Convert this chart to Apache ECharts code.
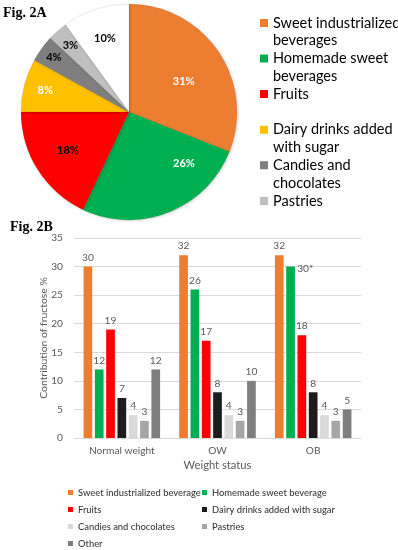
<!DOCTYPE html>
<html><head><meta charset="utf-8">
<script src="https://cdn.jsdelivr.net/npm/echarts@6/dist/echarts.min.js"></script>
<style>html,body{margin:0;padding:0;background:#fff}#c{width:398px;height:550px}</style>
</head><body><div id="c"></div>
<script>
// ---- Fig. 2A data ----
const pieNames = ['Sweet industrialized beverages','Homemade sweet beverages','Fruits','Dairy drinks added with sugar','Candies and chocolates','Pastries','Other'];
const pieValues = [31, 26, 18, 8, 4, 3, 10];
const pieLegendNames = ['Sweet industrialized beverages','Homemade sweet beverages','Fruits','Dairy drinks added with sugar','Candies and chocolates','Pastries'];
const pieLegendText = {
  'Sweet industrialized beverages':'Sweet industrialized\nbeverages',
  'Homemade sweet beverages':'Homemade sweet\nbeverages',
  'Fruits':'Fruits\n ',
  'Dairy drinks added with sugar':'Dairy drinks added\nwith sugar',
  'Candies and chocolates':'Candies and\nchocolates',
  'Pastries':'Pastries\n '
};
// ---- Fig. 2B data ----
const categories = ['Normal weight','OW','OB'];
const barSeriesNames = ['Sweet industrialized beverage','Homemade sweet beverage','Fruits','Dairy drinks added with sugar','Candies and chocolates','Pastries','Other'];
const sweetIndustrialized = [30, 32, 32];
const homemadeSweet = [12, 26, 30];
const fruits = [19, 17, 18];
const dairySugar = [7, 8, 8];
const candies = [4, 4, 4];
const pastries = [3, 3, 3];
const other = [12, 10, 5];
const barValues = [sweetIndustrialized, homemadeSweet, fruits, dairySugar, candies, pastries, other];
const starredLabel = {series: 1, index: 2, text: '30*'};
const yMin = 0, yMax = 35, yStep = 5;
// bottom legend laid out in two columns (reading order left->right, top->bottom)
const legendColLeft = barSeriesNames.filter((_, i) => i % 2 === 0);
const legendColRight = barSeriesNames.filter((_, i) => i % 2 === 1);

// ---- styles ----
const FONT = 'Lato';
const pieColors = ['#ED7D31','#00B050','#FF0000','#FFC000','#7F7F7F','#BFBFBF','#FFFFFF'];
const pieLabelColors = ['#fff','#fff','#000','#fff','#000','#000','#000'];
const pieLabelPlace = [[0.58,5],[0.70,-25],[0.67,0],[0.80,0],[0.86,0],[0.82,0],[0.72,0]];
const barColors = ['#ED7D31','#00B050','#FF0000','#1C1C1C','#D9D9D9','#A6A6A6','#7F7F7F'];
const PCX = 129, PCY = 112, PR = 108;
const iconH = 35.6;
const pieIcon = 'path://M0,4.9h8v8h-8z M0,0h0.01v' + iconH + 'h-0.01z';

const total = pieValues.reduce((a,b)=>a+b,0);
const cum = []; pieValues.reduce((a,v,i)=>{cum[i]=a; return a+v;},0);

const bottomLegend = (names, left) => ({
  orient:'vertical', left:left, top:486, padding:0, itemGap:4,
  itemWidth:5, itemHeight:5, selectedMode:false, icon:'rect',
  data: names,
  textStyle:{fontFamily:FONT, fontSize:9.4, fontWeight:500, lineHeight:13, color:'#3A3A3A'}
});

const chart = echarts.init(document.getElementById('c'), null, {renderer:'canvas'});
const option = {
  animation: false,
  title: [
    {text:'Fig. 2A', left:3, top:6, padding:0, textStyle:{fontFamily:'Liberation Serif', fontWeight:'bold', fontSize:14, color:'#000'}},
    {text:'Fig. 2B', left:10, top:220, padding:0, textStyle:{fontFamily:'Liberation Serif', fontWeight:'bold', fontSize:14, color:'#000'}}
  ],
  legend: [
    {
      orient:'vertical', left:260, top:14, padding:0, itemGap:0,
      itemWidth:8, itemHeight:iconH, selectedMode:false,
      itemStyle:{borderWidth:0},
      data: pieLegendNames.map(n => ({name:n, icon:pieIcon, itemStyle:{color:pieColors[pieNames.indexOf(n)], borderWidth:0}})),
      formatter: n => pieLegendText[n],
      textStyle:{fontFamily:FONT, fontSize:14.5, lineHeight:17.8, color:'#000'}
    },
    bottomLegend(legendColLeft, 68),
    bottomLegend(legendColRight, 202)
  ],
  grid: {left:74, right:37, top:238, bottom:112},
  xAxis: {
    type:'category', data:categories,
    axisLine:{lineStyle:{color:'#D9D9D9'}}, axisTick:{show:false},
    axisLabel:{color:'#595959', fontFamily:FONT, fontSize:10.2, margin:8},
    name:'Weight status', nameLocation:'middle', nameGap:22, nameMoveOverlap:false,
    nameTextStyle:{color:'#595959', fontFamily:FONT, fontSize:11.2}
  },
  yAxis: {
    type:'value', min:yMin, max:yMax, interval:yStep,
    axisLine:{show:false}, axisTick:{show:false},
    splitLine:{lineStyle:{color:'#D9D9D9'}},
    axisLabel:{color:'#595959', fontFamily:FONT, fontSize:10.2, margin:11},
    name:'Contribution of fructose %', nameLocation:'middle', nameGap:25, nameMoveOverlap:false,
    nameTextStyle:{color:'#595959', fontFamily:FONT, fontSize:10.4}
  },
  series: [
    {
      type:'pie', center:[PCX, PCY], radius:PR, startAngle:90, clockwise:true,
      legendHoverLink:false, emphasis:{disabled:true}, silent:true,
      itemStyle:{borderColor:'rgba(0,0,0,0.12)', borderWidth:0.6, shadowColor:'rgba(0,0,0,0.18)', shadowBlur:3, shadowOffsetX:1, shadowOffsetY:1},
      label:{show:true, position:'inside', formatter:'{c}%', fontFamily:FONT, fontSize:11, fontWeight:'bold'},
      labelLine:{show:false},
      labelLayout: function (p) {
        const i = p.dataIndex;
        const ang = ((cum[i] + pieValues[i]/2) / total * 360 + pieLabelPlace[i][1]) * Math.PI / 180;
        const r = pieLabelPlace[i][0] * PR;
        return {x: PCX + r*Math.sin(ang), y: PCY - r*Math.cos(ang), align:'center', verticalAlign:'middle'};
      },
      data: pieNames.map((n,i)=>({name:n, value:pieValues[i], itemStyle:{color:pieColors[i]}, label:{color:pieLabelColors[i]}}))
    }
  ].concat(barSeriesNames.map((n,s)=>({
    type:'bar', name:n, barGap:'30%', barCategoryGap:'20%',
    itemStyle:{color:barColors[s]},
    emphasis:{disabled:true},
    label:{show:true, position:'top', distance:4, color:'#595959', fontFamily:FONT, fontSize:10.2},
    data: barValues[s].map((v,k)=> (s===starredLabel.series && k===starredLabel.index)
      ? {value:v, label:{formatter:starredLabel.text, position:[11,-3]}}
      : v)
  })))
};
chart.setOption(option);
</script>
</body></html>
